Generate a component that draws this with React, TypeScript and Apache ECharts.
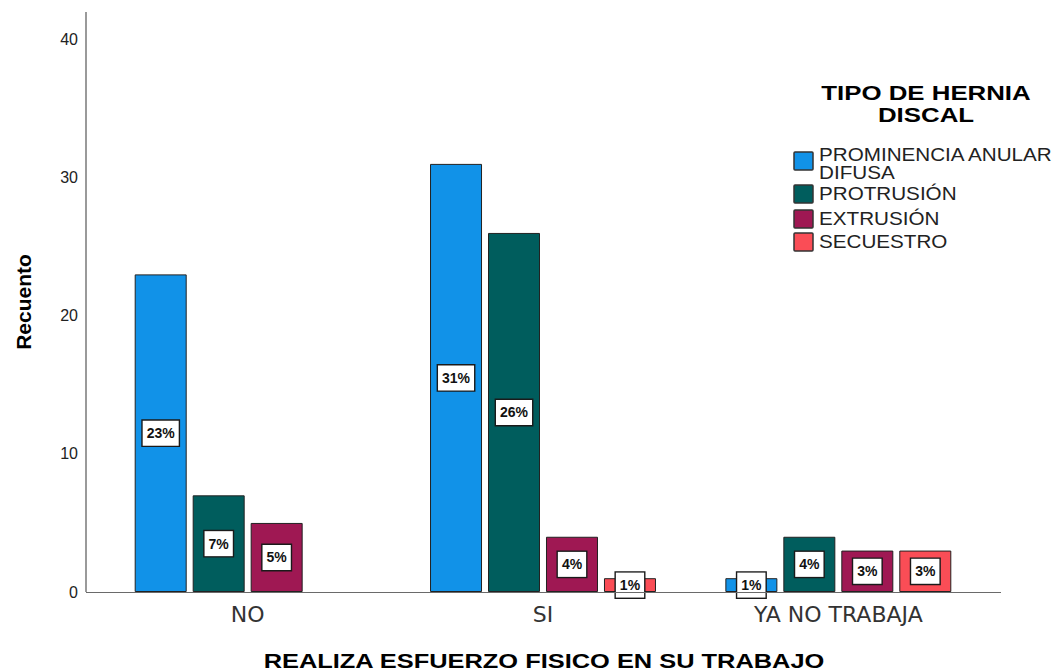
import React, { useEffect, useRef } from "react";
import * as echarts from "echarts";

const categories = ["NO", "SI", "YA NO TRABAJA"];
const seriesNames = ["PROMINENCIA ANULAR\nDIFUSA", "PROTRUSIÓN", "EXTRUSIÓN", "SECUESTRO"];
const seriesColors = ["#1192E8", "#005D5D", "#9F1853", "#FA4D56"];
const prominencia = [23, 31, 1];
const protrusion = [7, 26, 4];
const extrusion = [5, 4, 3];
const secuestro = [0, 1, 3];
const prominenciaPct = ["23%", "31%", "1%"];
const protrusionPct = ["7%", "26%", "4%"];
const extrusionPct = ["5%", "4%", "3%"];
const secuestroPct = ["", "1%", "3%"];
const yTicks = [0, 10, 20, 30, 40];
const legendTitle = "TIPO DE HERNIA\nDISCAL";
const xTitle = "REALIZA ESFUERZO FISICO EN SU TRABAJO";
const yTitle = "Recuento";

const ARIAL = "'Liberation Sans', Arial, sans-serif";
const WIDE = "'DejaVu Sans', sans-serif";

export default function App() {
  const ref = useRef<HTMLDivElement>(null);
  useEffect(() => {
    document.body.style.margin = "0";
    const chart = echarts.init(ref.current!, undefined, { renderer: "svg" });
    const values = [prominencia, protrusion, extrusion, secuestro];
    const pcts = [prominenciaPct, protrusionPct, extrusionPct, secuestroPct];

    const series = values.map((vals, si) => ({
      type: "bar",
      name: seriesNames[si],
      barWidth: 52,
      barGap: "11.5%",
      itemStyle: { color: seriesColors[si], borderColor: "#222", borderWidth: 1 },
      label: {
        show: true,
        position: "inside",
        formatter: (p: any) => pcts[si][p.dataIndex],
        backgroundColor: "#fff",
        borderColor: "#1a1a1a",
        borderWidth: 1.4,
        padding: [6, 4, 5, 4],
        color: "#111",
        fontWeight: "bold",
        fontSize: 14,
        fontFamily: ARIAL,
      },
      data: vals.map((v) =>
        v === 0 ? { value: v, itemStyle: { borderWidth: 0 }, label: { show: false } } : v
      ),
    }));

    // legend layout (style/positions)
    const iconTops = [152, 185, 210, 233];
    const textCenters = [164, 194.5, 219.5, 242.5];
    const graphics: any[] = [
      { type: "line", shape: { x1: 86, y1: 12, x2: 86, y2: 592 }, style: { stroke: "#9a9a9a", lineWidth: 2 }, z: 10 },
      { type: "line", shape: { x1: 86, y1: 592.5, x2: 1001, y2: 592.5 }, style: { stroke: "#6a6a6a", lineWidth: 1 }, z: 10 },
      {
        type: "text",
        x: 926,
        y: 104,
        scaleX: 1.23,
        style: {
          text: legendTitle,
          fill: "#000",
          font: `bold 21px ${ARIAL}`,
          textAlign: "center",
          textVerticalAlign: "middle",
          lineHeight: 22,
        },
      },
      {
        type: "text",
        x: 544,
        y: 661,
        scaleX: 1.27,
        style: {
          text: xTitle,
          fill: "#000",
          font: `bold 20px ${ARIAL}`,
          textAlign: "center",
          textVerticalAlign: "middle",
        },
      },
    ];
    seriesNames.forEach((name, i) => {
      graphics.push({
        type: "rect",
        shape: { x: 794, y: iconTops[i], width: 19, height: 18, r: 1 },
        style: { fill: seriesColors[i], stroke: "#333", lineWidth: 1.5 },
      });
      graphics.push({
        type: "text",
        x: 819,
        y: textCenters[i],
        scaleX: 1.18,
        style: {
          text: name,
          fill: "#222",
          font: `17.5px ${ARIAL}`,
          lineHeight: 18,
          textVerticalAlign: "middle",
        },
      });
    });

    chart.setOption({
      animation: false,
      textStyle: { fontFamily: ARIAL },
      grid: { left: 100, right: 70, top: 12, bottom: 80, outerBoundsMode: "none" },
      xAxis: {
        type: "category",
        data: categories,
        axisLine: { show: false },
        axisTick: { show: false },
        axisLabel: { fontSize: 22, color: "#333", margin: 11, fontFamily: WIDE },
      },
      yAxis: {
        type: "value",
        min: 0,
        max: 42,
        interval: 10,
        axisLine: { show: false },
        axisTick: { show: false },
        splitLine: { show: false },
        axisLabel: {
          fontSize: 16,
          color: "#222",
          margin: 22,
          fontFamily: ARIAL,
          formatter: (v: number) => (yTicks.includes(v) ? String(v) : ""),
        },
        name: yTitle,
        nameLocation: "middle",
        nameGap: 66,
        nameTextStyle: { fontSize: 21, fontWeight: "bold", color: "#000", fontFamily: ARIAL },
      },
      graphic: graphics,
      series,
    });
    return () => chart.dispose();
  }, []);
  return <div ref={ref} style={{ width: 1056, height: 672 }} />;
}
